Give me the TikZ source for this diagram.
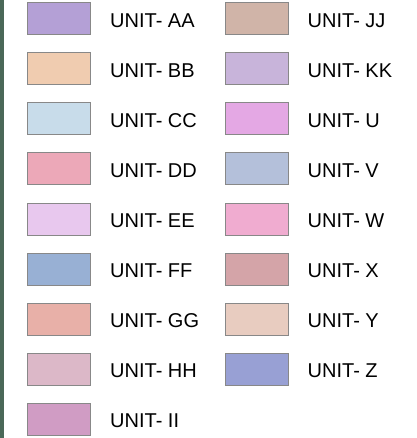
\documentclass[tikz,border=0pt]{standalone}
\usepackage{fontspec}
\setmainfont{Liberation Sans}
\usepackage{xcolor}
\usepackage{tikz}
\usetikzlibrary{positioning}
\definecolor{sidebar}{RGB}{74,104,88}
\definecolor{swatchline}{RGB}{136,136,136}
\definecolor{unitaa}{RGB}{180,160,214}
\definecolor{unitbb}{RGB}{240,204,176}
\definecolor{unitcc}{RGB}{200,220,234}
\definecolor{unitdd}{RGB}{236,168,184}
\definecolor{unitee}{RGB}{232,200,238}
\definecolor{unitff}{RGB}{152,176,212}
\definecolor{unitgg}{RGB}{232,176,168}
\definecolor{unithh}{RGB}{220,184,200}
\definecolor{unitii}{RGB}{208,156,196}
\definecolor{unitjj}{RGB}{208,180,168}
\definecolor{unitkk}{RGB}{200,180,218}
\definecolor{unitu}{RGB}{228,168,228}
\definecolor{unitv}{RGB}{180,192,218}
\definecolor{unitw}{RGB}{240,172,208}
\definecolor{unitx}{RGB}{212,164,168}
\definecolor{unity}{RGB}{232,204,192}
\definecolor{unitz}{RGB}{152,160,212}

\tikzset{
  swatch/.style={draw=swatchline,line width=1pt,minimum width=63pt,minimum height=32pt,inner sep=0pt},
  unitlabel/.style={right=19pt of #1,anchor=west,yshift=-1.5pt,inner sep=0pt,font=\fontsize{20}{24}\selectfont,text=black}
}

\begin{document}
\begin{tikzpicture}[x=1pt,y=1pt]
    \useasboundingbox (0,0) rectangle (416,-438);
    \fill[sidebar] (0,0) rectangle (4,-438);

    % left column
    \node[swatch,fill=unitaa] (aa) at (59,-19) {};
    \node[unitlabel=aa] (aa-lbl) {UNIT- AA};
    \node[swatch,fill=unitbb] (bb) at (59,-69) {};
    \node[unitlabel=bb] (bb-lbl) {UNIT- BB};
    \node[swatch,fill=unitcc] (cc) at (59,-119) {};
    \node[unitlabel=cc] (cc-lbl) {UNIT- CC};
    \node[swatch,fill=unitdd] (dd) at (59,-169) {};
    \node[unitlabel=dd] (dd-lbl) {UNIT- DD};
    \node[swatch,fill=unitee] (ee) at (59,-219) {};
    \node[unitlabel=ee] (ee-lbl) {UNIT- EE};
    \node[swatch,fill=unitff] (ff) at (59,-269) {};
    \node[unitlabel=ff] (ff-lbl) {UNIT- FF};
    \node[swatch,fill=unitgg] (gg) at (59,-319) {};
    \node[unitlabel=gg] (gg-lbl) {UNIT- GG};
    \node[swatch,fill=unithh] (hh) at (59,-369) {};
    \node[unitlabel=hh] (hh-lbl) {UNIT- HH};
    \node[swatch,fill=unitii] (ii) at (59,-419) {};
    \node[unitlabel=ii] (ii-lbl) {UNIT- II};

    % right column
    \node[swatch,fill=unitjj] (jj) at (256.5,-19) {};
    \node[unitlabel=jj] (jj-lbl) {UNIT- JJ};
    \node[swatch,fill=unitkk] (kk) at (256.5,-69) {};
    \node[unitlabel=kk] (kk-lbl) {UNIT- KK};
    \node[swatch,fill=unitu] (u) at (256.5,-119) {};
    \node[unitlabel=u] (u-lbl) {UNIT- U};
    \node[swatch,fill=unitv] (v) at (256.5,-169) {};
    \node[unitlabel=v] (v-lbl) {UNIT- V};
    \node[swatch,fill=unitw] (w) at (256.5,-219) {};
    \node[unitlabel=w] (w-lbl) {UNIT- W};
    \node[swatch,fill=unitx] (x) at (256.5,-269) {};
    \node[unitlabel=x] (x-lbl) {UNIT- X};
    \node[swatch,fill=unity] (y) at (256.5,-319) {};
    \node[unitlabel=y] (y-lbl) {UNIT- Y};
    \node[swatch,fill=unitz] (z) at (256.5,-369) {};
    \node[unitlabel=z] (z-lbl) {UNIT- Z};
  \end{tikzpicture}
\end{document}
